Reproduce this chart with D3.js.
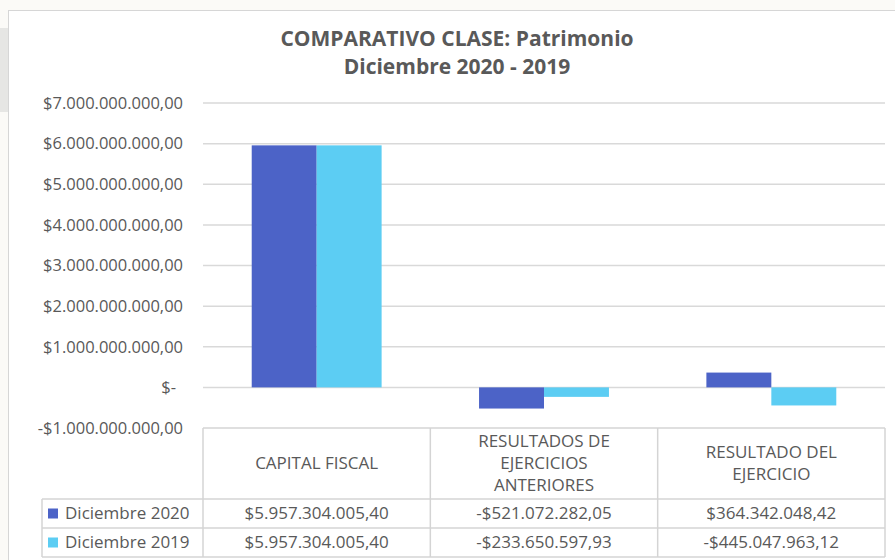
<!DOCTYPE html>
<html>
<head>
<meta charset="utf-8">
<script src="https://cdn.jsdelivr.net/npm/d3@7"></script>
<style>
  body { margin: 0; background: #fbfaf7; }
  svg { display: block; font-family: "Open Sans", sans-serif; }
</style>
</head>
<body>
<svg id="chart" width="895" height="560"></svg>
<script>
// data
const categories = ['CAPITAL FISCAL', 'RESULTADOS DE EJERCICIOS ANTERIORES', 'RESULTADO DEL EJERCICIO'];
const categoryLines = [['CAPITAL FISCAL'], ['RESULTADOS DE', 'EJERCICIOS', 'ANTERIORES'], ['RESULTADO DEL', 'EJERCICIO']];
const seriesNames = ['Diciembre 2020', 'Diciembre 2019'];
const dic2020 = [5957304005.40, -521072282.05, 364342048.42];
const dic2019 = [5957304005.40, -233650597.93, -445047963.12];
const yTicks = [-1e9, 0, 1e9, 2e9, 3e9, 4e9, 5e9, 6e9, 7e9];
const titleLines = ['COMPARATIVO CLASE: Patrimonio', 'Diciembre 2020 - 2019'];

const colors = ['#4c63c7', '#5ccdf3'];
const series = [dic2020, dic2019];

const width = 895;
const height = 560;
const plotLeft = 203;
const plotRight = 885;
const plotTop = 103;
const plotBottom = 428;
const headerBottom = 499;
const rowHeight = 29;
const legendLeft = 42;
const textColor = '#595959';

const es = d3.formatLocale({
  decimal: ',',
  thousands: '.',
  grouping: [3],
  currency: ['$', ''],
  minus: '-',
});
const money = es.format('$,.2f');

const svg = d3.select('#chart');

// page frame
svg.append('rect')
  .attr('x', 0).attr('y', 28).attr('width', 8).attr('height', 84)
  .attr('fill', '#e6e6e4');
svg.append('rect')
  .attr('x', 8.5).attr('y', 10.5)
  .attr('width', width).attr('height', height)
  .attr('fill', '#fff')
  .attr('stroke', '#d6d6d6');

// title
svg.append('g')
  .selectAll('text')
  .data(titleLines)
  .join('text')
  .attr('x', 457)
  .attr('y', (d, i) => 39 + i * 28)
  .attr('dy', '0.35em')
  .attr('text-anchor', 'middle')
  .attr('font-size', 21)
  .attr('font-weight', 700)
  .attr('fill', textColor)
  .text((d) => d);

const x0 = d3.scaleBand()
  .domain(categories)
  .range([plotLeft, plotRight]);

const x1 = d3.scaleBand()
  .domain(seriesNames)
  .range([0, x0.bandwidth()])
  .paddingOuter(0.75);

const y = d3.scaleLinear()
  .domain([-1e9, 7e9])
  .range([plotBottom, plotTop]);

// gridlines + y labels
const yAxis = d3.axisLeft(y)
  .tickValues(yTicks)
  .tickSize(0)
  .tickPadding(20)
  .tickFormat((d) => (d === 0 ? '$-' : money(d)));

const yg = svg.append('g')
  .attr('transform', `translate(${plotLeft},0)`)
  .call(yAxis);
yg.select('.domain').remove();
yg.selectAll('text')
  .attr('font-size', 16.5)
  .attr('font-family', '"Open Sans", sans-serif')
  .attr('fill', textColor)
  .attr('dx', (d) => (d === 0 ? -7 : 0));

svg.append('g')
  .selectAll('line')
  .data(yTicks.filter((d) => d >= 0))
  .join('line')
  .attr('x1', plotLeft)
  .attr('x2', plotRight)
  .attr('y1', (d) => y(d))
  .attr('y2', (d) => y(d))
  .attr('stroke', '#d9d9d9')
  .attr('stroke-width', 1.5);

// bars
const groups = svg.append('g')
  .selectAll('g')
  .data(categories)
  .join('g')
  .attr('transform', (d) => `translate(${x0(d)},0)`);

groups.selectAll('rect')
  .data((d, i) => seriesNames.map((s, j) => ({ s, v: series[j][i], c: colors[j] })))
  .join('rect')
  .attr('x', (d) => x1(d.s))
  .attr('width', x1.bandwidth())
  .attr('y', (d) => y(Math.max(0, d.v)))
  .attr('height', (d) => Math.abs(y(d.v) - y(0)))
  .attr('fill', (d) => d.c);

// data table
const tableBottom = headerBottom + rowHeight * seriesNames.length;
const tbl = svg.append('g')
  .attr('stroke', '#d4d4d4')
  .attr('stroke-width', 1.5)
  .attr('fill', 'none');

tbl.append('line')
  .attr('x1', plotLeft).attr('x2', plotRight)
  .attr('y1', plotBottom).attr('y2', plotBottom);
tbl.selectAll('.hline')
  .data(d3.range(seriesNames.length + 1))
  .join('line')
  .attr('x1', legendLeft).attr('x2', plotRight)
  .attr('y1', (i) => headerBottom + i * rowHeight)
  .attr('y2', (i) => headerBottom + i * rowHeight);
tbl.append('line')
  .attr('x1', legendLeft).attr('x2', legendLeft)
  .attr('y1', headerBottom).attr('y2', tableBottom);
tbl.selectAll('.vline')
  .data(categories.map((c) => x0(c)).concat([plotRight]))
  .join('line')
  .attr('x1', (d) => d).attr('x2', (d) => d)
  .attr('y1', plotBottom).attr('y2', tableBottom);

// header labels
const headers = svg.append('g')
  .selectAll('text')
  .data(categories)
  .join('text')
  .attr('text-anchor', 'middle')
  .attr('font-size', 17)
  .attr('fill', textColor);
headers.selectAll('tspan')
  .data((d, i) => categoryLines[i].map((line, k, arr) => ({ line, k, n: arr.length, c: d })))
  .join('tspan')
  .attr('x', (d) => x0(d.c) + x0.bandwidth() / 2)
  .attr('y', (d) => (plotBottom + headerBottom) / 2 + (d.k - (d.n - 1) / 2) * 22)
  .attr('dy', '0.35em')
  .text((d) => d.line);

// value rows
seriesNames.forEach((name, j) => {
  const cy = headerBottom + rowHeight * j + rowHeight / 2;
  svg.append('rect')
    .attr('x', 48).attr('y', cy - 5)
    .attr('width', 10).attr('height', 10)
    .attr('fill', colors[j]);
  svg.append('text')
    .attr('x', 65)
    .attr('y', cy)
    .attr('dy', '0.35em')
    .attr('font-size', 17)
    .attr('fill', textColor)
    .text(name);
  svg.append('g')
    .selectAll('text')
    .data(categories)
    .join('text')
    .attr('x', (d) => x0(d) + x0.bandwidth() / 2)
    .attr('y', cy)
    .attr('dy', '0.35em')
    .attr('text-anchor', 'middle')
    .attr('font-size', 17)
    .attr('fill', textColor)
    .text((d, i) => money(series[j][i]));
});
</script>
</body>
</html>
